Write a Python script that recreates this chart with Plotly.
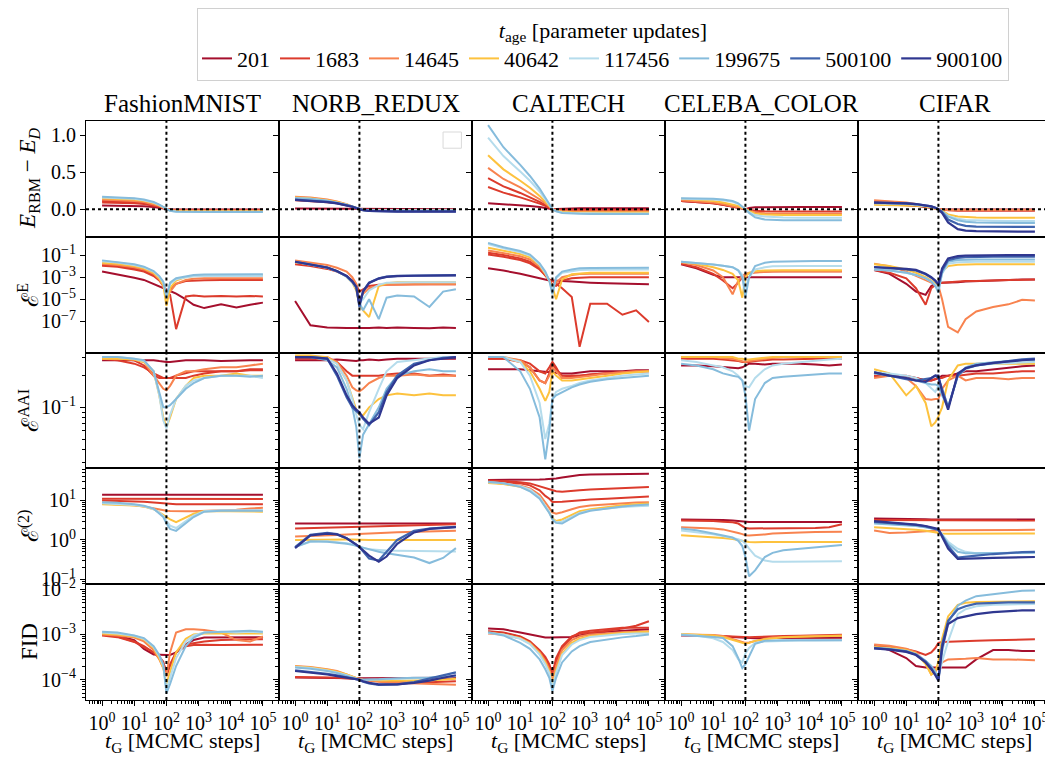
import plotly.graph_objects as go
from plotly.subplots import make_subplots

# ---------------- data ----------------
T_G = [1, 3, 10, 20, 40, 60, 80, 100, 130, 200, 400, 700, 1500, 5000, 15000, 40000, 100000]
T_REF = 100
DATASETS = ["FashionMNIST", "NORB_REDUX", "CALTECH", "CELEBA_COLOR", "CIFAR"]
AGES = ["201", "1683", "14645", "40642", "117456", "199675", "500100", "900100"]
AGE_COLORS = {"201": "#a50f2d", "1683": "#dc3b2c", "14645": "#f8834f", "40642": "#fdc23e",
              "117456": "#b5dcec", "199675": "#86bcdc", "500100": "#3f64ad", "900100": "#2f3790"}

# row 1: E_RBM - E_D
FMNIST_GAP = [
    ("201", [0.05, 0.05, 0.045, 0.04, 0.03, 0.02, 0.01, 0.0, -0.003, -0.005, -0.005, -0.005, -0.005, -0.005, -0.005, -0.005, -0.005]),
    ("1683", [0.09, 0.088, 0.08, 0.07, 0.05, 0.032, 0.015, 0.0, -0.008, -0.01, -0.01, -0.01, -0.01, -0.01, -0.01, -0.01, -0.01]),
    ("1683", [0.11, 0.105, 0.095, 0.083, 0.06, 0.038, 0.018, 0.0, -0.01, -0.013, -0.013, -0.013, -0.013, -0.013, -0.013, -0.013, -0.013]),
    ("14645", [0.13, 0.125, 0.112, 0.097, 0.07, 0.045, 0.022, 0.0, -0.014, -0.018, -0.02, -0.02, -0.02, -0.02, -0.02, -0.02, -0.02]),
    ("40642", [0.15, 0.145, 0.13, 0.113, 0.083, 0.053, 0.026, 0.0, -0.018, -0.025, -0.028, -0.028, -0.028, -0.028, -0.028, -0.028, -0.028]),
    ("117456", [0.16, 0.155, 0.14, 0.122, 0.09, 0.058, 0.028, 0.0, -0.02, -0.03, -0.033, -0.033, -0.033, -0.033, -0.033, -0.033, -0.033]),
    ("199675", [0.17, 0.165, 0.15, 0.13, 0.097, 0.062, 0.03, 0.0, -0.022, -0.033, -0.037, -0.037, -0.037, -0.037, -0.037, -0.037, -0.037]),
]
NORB_GAP = [
    ("201", [0.01, 0.01, 0.008, 0.007, 0.005, 0.003, 0.001, 0.0, 0.0, 0.0, 0.0, 0.0, 0.0, 0.0, 0.0, 0.0, 0.0]),
    ("1683", [0.12, 0.112, 0.095, 0.08, 0.055, 0.035, 0.016, 0.0, -0.005, -0.008, -0.01, -0.01, -0.01, -0.01, -0.01, -0.01, -0.01]),
    ("14645", [0.17, 0.16, 0.13, 0.105, 0.068, 0.042, 0.019, 0.0, -0.006, -0.01, -0.012, -0.012, -0.012, -0.012, -0.012, -0.012, -0.012]),
    ("40642", [0.16, 0.148, 0.12, 0.097, 0.063, 0.04, 0.018, 0.0, -0.008, -0.015, -0.018, -0.018, -0.018, -0.018, -0.018, -0.018, -0.018]),
    ("117456", [0.15, 0.14, 0.113, 0.09, 0.06, 0.038, 0.017, 0.0, -0.008, -0.013, -0.015, -0.015, -0.015, -0.015, -0.015, -0.015, -0.015]),
    ("199675", [0.15, 0.14, 0.113, 0.09, 0.06, 0.038, 0.017, 0.0, -0.01, -0.018, -0.02, -0.02, -0.02, -0.02, -0.02, -0.02, -0.02]),
    ("500100", [0.13, 0.12, 0.1, 0.082, 0.055, 0.035, 0.016, 0.0, -0.012, -0.022, -0.027, -0.029, -0.03, -0.03, -0.03, -0.03, -0.03]),
    ("900100", [0.125, 0.115, 0.096, 0.079, 0.053, 0.034, 0.015, 0.0, -0.013, -0.024, -0.029, -0.031, -0.032, -0.032, -0.032, -0.032, -0.032]),
]
CALTECH_GAP = [
    ("201", [0.08, 0.068, 0.053, 0.043, 0.029, 0.019, 0.008, 0.0, 0.004, 0.008, 0.01, 0.012, 0.012, 0.012, 0.012, 0.012, 0.012]),
    ("1683", [0.30, 0.225, 0.16, 0.12, 0.075, 0.045, 0.019, 0.0, -0.005, -0.008, -0.01, -0.01, -0.01, -0.01, -0.01, -0.01, -0.01]),
    ("1683", [0.42, 0.31, 0.22, 0.165, 0.1, 0.06, 0.026, 0.0, -0.01, -0.015, -0.02, -0.02, -0.02, -0.02, -0.02, -0.02, -0.02]),
    ("14645", [0.56, 0.41, 0.295, 0.22, 0.135, 0.08, 0.034, 0.0, -0.015, -0.025, -0.03, -0.032, -0.032, -0.032, -0.032, -0.032, -0.032]),
    ("40642", [0.73, 0.54, 0.385, 0.29, 0.18, 0.105, 0.045, 0.0, -0.02, -0.035, -0.04, -0.043, -0.045, -0.045, -0.045, -0.045, -0.045]),
    ("117456", [0.97, 0.72, 0.51, 0.385, 0.24, 0.14, 0.06, 0.0, -0.025, -0.045, -0.053, -0.056, -0.058, -0.058, -0.058, -0.058, -0.058]),
    ("199675", [1.14, 0.84, 0.6, 0.45, 0.28, 0.165, 0.07, 0.0, -0.03, -0.05, -0.06, -0.063, -0.065, -0.065, -0.065, -0.065, -0.065]),
]
CELEBA_GAP = [
    ("201", [0.11, 0.1, 0.08, 0.06, 0.035, 0.02, 0.008, 0.0, 0.015, 0.025, 0.028, 0.03, 0.03, 0.03, 0.03, 0.03, 0.03]),
    ("1683", [0.11, 0.1, 0.08, 0.06, 0.04, 0.024, 0.01, 0.0, -0.01, -0.02, -0.028, -0.03, -0.03, -0.03, -0.03, -0.03, -0.03]),
    ("14645", [0.12, 0.11, 0.09, 0.07, 0.045, 0.028, 0.012, 0.0, -0.02, -0.045, -0.055, -0.058, -0.06, -0.06, -0.06, -0.06, -0.06]),
    ("40642", [0.14, 0.13, 0.11, 0.09, 0.065, 0.045, 0.02, 0.0, -0.03, -0.06, -0.073, -0.077, -0.078, -0.078, -0.078, -0.078, -0.078]),
    ("117456", [0.14, 0.138, 0.13, 0.12, 0.1, 0.07, 0.035, 0.0, -0.04, -0.08, -0.1, -0.108, -0.112, -0.115, -0.115, -0.115, -0.115]),
    ("199675", [0.15, 0.148, 0.14, 0.13, 0.11, 0.08, 0.04, 0.0, -0.05, -0.11, -0.14, -0.148, -0.15, -0.15, -0.15, -0.15, -0.15]),
]
CIFAR_GAP = [
    ("201", [0.07, 0.065, 0.055, 0.045, 0.03, 0.018, 0.008, 0.0, -0.002, -0.005, -0.005, -0.005, -0.005, -0.005, -0.005, -0.005, -0.005]),
    ("1683", [0.1, 0.09, 0.075, 0.06, 0.04, 0.025, 0.011, 0.0, -0.008, -0.015, -0.02, -0.02, -0.02, -0.02, -0.02, -0.02, -0.02]),
    ("14645", [0.12, 0.11, 0.09, 0.07, 0.045, 0.028, 0.012, 0.0, -0.005, -0.01, -0.01, -0.01, -0.01, -0.01, -0.01, -0.01, -0.01]),
    ("40642", [0.06, 0.058, 0.053, 0.047, 0.037, 0.025, 0.013, 0.0, -0.02, -0.07, -0.1, -0.108, -0.112, -0.115, -0.115, -0.115, -0.115]),
    ("117456", [0.08, 0.077, 0.07, 0.06, 0.047, 0.033, 0.017, 0.0, -0.03, -0.09, -0.13, -0.145, -0.152, -0.157, -0.16, -0.16, -0.16]),
    ("199675", [0.085, 0.082, 0.075, 0.065, 0.05, 0.035, 0.018, 0.0, -0.03, -0.1, -0.15, -0.17, -0.18, -0.185, -0.187, -0.187, -0.187]),
    ("500100", [0.09, 0.087, 0.08, 0.07, 0.055, 0.038, 0.02, 0.0, -0.04, -0.14, -0.2, -0.225, -0.235, -0.24, -0.24, -0.24, -0.24]),
    ("900100", [0.09, 0.087, 0.08, 0.07, 0.055, 0.038, 0.02, 0.0, -0.05, -0.18, -0.27, -0.29, -0.298, -0.302, -0.305, -0.305, -0.305]),
]

# row 2: E^E
FMNIST_EE = [
    ("201", [3.2e-3, 1.8e-3, 8.9e-4, 5.6e-4, 2.5e-4, 1.6e-4, 1.1e-4, 7.9e-5, 5.6e-5, 3.2e-5, 1e-5, 3.2e-6, 1.6e-6, 3.5e-6, 1.8e-6, 3.2e-6, 5e-6]),
    ("1683", [1.26e-2, 1e-2, 6.3e-3, 4e-3, 1.6e-3, 6.3e-4, 2e-4, 4e-5, 7.9e-5, 2.5e-4, 4.5e-4, 5e-4, 5.4e-4, 5.6e-4, 5.6e-4, 5.6e-4, 5.6e-4]),
    ("1683", [1.1e-2, 8.9e-3, 5e-3, 3.2e-3, 1.26e-3, 5e-4, 1.6e-4, 4e-5, 2.5e-5, 2e-8, 1.8e-5, 2.2e-5, 1.8e-5, 2e-5, 1.8e-5, 2e-5, 1.8e-5]),
    ("14645", [1.66e-2, 1.26e-2, 7.9e-3, 5e-3, 2e-3, 6.3e-4, 1.6e-4, 1.6e-5, 5e-5, 2.5e-4, 5.6e-4, 7.1e-4, 7.9e-4, 7.9e-4, 7.9e-4, 7.9e-4, 7.9e-4]),
    ("40642", [2.0e-2, 1.6e-2, 1e-2, 6.3e-3, 2.5e-3, 7.9e-4, 2e-4, 2.5e-6, 1e-4, 5e-4, 1e-3, 1.26e-3, 1.4e-3, 1.4e-3, 1.4e-3, 1.4e-3, 1.4e-3]),
    ("117456", [2.8e-2, 2.1e-2, 1.26e-2, 7.9e-3, 3.2e-3, 1.1e-3, 3.2e-4, 2.5e-5, 2.5e-4, 6.3e-4, 1e-3, 1.2e-3, 1.26e-3, 1.3e-3, 1.26e-3, 1.3e-3, 1.26e-3]),
    ("199675", [3.3e-2, 2.4e-2, 1.45e-2, 8.9e-3, 3.6e-3, 1.26e-3, 4.0e-4, 1.4e-5, 3.2e-4, 7.9e-4, 1.26e-3, 1.58e-3, 1.78e-3, 1.8e-3, 1.8e-3, 1.86e-3, 1.8e-3]),
]
NORB_EE = [
    ("201", [7.1e-6, 4.5e-8, 2.8e-8, 2.5e-8, 2.5e-8, 2.5e-8, 2.4e-8, 2.5e-8, 2.6e-8, 2.5e-8, 2.8e-8, 2.5e-8, 2.8e-8, 2.6e-8, 2.4e-8, 2.8e-8, 2.6e-8]),
    ("1683", [1.45e-2, 1e-2, 5.6e-3, 3.2e-3, 1.26e-3, 5e-4, 2e-4, 5e-5, 7.9e-5, 1.6e-4, 2.1e-4, 2.2e-4, 2.3e-4, 2.3e-4, 2.3e-4, 2.3e-4, 2.3e-4]),
    ("14645", [3.3e-2, 2.2e-2, 1.26e-2, 7.1e-3, 3.2e-3, 1e-3, 2.5e-4, 7.9e-6, 3.2e-5, 1e-4, 1.8e-4, 2.1e-4, 2.2e-4, 2.3e-4, 2.3e-4, 2.3e-4, 2.3e-4]),
    ("40642", [2.2e-2, 1.4e-2, 7.1e-3, 3.5e-3, 1.1e-3, 3.2e-4, 6.3e-5, 3.2e-6, 1e-6, 2.5e-7, 1.6e-4, 2.8e-4, 3.4e-4, 3.5e-4, 3.5e-4, 3.5e-4, 3.5e-4]),
    ("117456", [2.5e-2, 1.4e-2, 7.1e-3, 3.5e-3, 1.1e-3, 3.5e-4, 1e-4, 5e-6, 1e-5, 6.3e-5, 2e-4, 3.2e-4, 3.5e-4, 3.5e-4, 3.5e-4, 3.5e-4, 3.5e-4]),
    ("199675", [2.5e-2, 1.4e-2, 7.1e-3, 3.5e-3, 1.1e-3, 3.5e-4, 1e-4, 5e-6, 1e-6, 1e-5, 1.6e-7, 1.4e-5, 2.2e-5, 1.8e-5, 2e-6, 5e-5, 7.9e-5]),
    ("500100", [2.5e-2, 1.4e-2, 7.2e-3, 3.5e-3, 1.26e-3, 4e-4, 1.26e-4, 2e-6, 5.6e-5, 3.2e-4, 7.9e-4, 1.1e-3, 1.3e-3, 1.4e-3, 1.5e-3, 1.5e-3, 1.5e-3]),
    ("900100", [2.5e-2, 1.4e-2, 7.5e-3, 3.6e-3, 1.3e-3, 4.2e-4, 1.3e-4, 3e-6, 5e-5, 3e-4, 7.5e-4, 1.05e-3, 1.25e-3, 1.35e-3, 1.45e-3, 1.45e-3, 1.45e-3]),
]
CALTECH_EE = [
    ("201", [6.3e-3, 4e-3, 2e-3, 1.26e-3, 7.1e-4, 5.6e-4, 5e-4, 5e-4, 5e-4, 4.5e-4, 4e-4, 3.5e-4, 3.2e-4, 2.8e-4, 2.5e-4, 2.4e-4, 2.3e-4]),
    ("1683", [0.112, 7.1e-2, 3.5e-2, 1.8e-2, 5e-3, 1.4e-3, 6.3e-4, 4.5e-4, 2.5e-4, 1e-4, 1.6e-5, 5e-10, 4e-6, 4e-6, 4e-7, 1e-6, 8.9e-8]),
    ("1683", [0.158, 0.1, 5e-2, 2.5e-2, 6.3e-3, 1.6e-3, 5e-4, 2e-4, 1.6e-4, 5e-4, 7.9e-4, 8.9e-4, 1e-3, 1e-3, 1e-3, 1e-3, 1e-3]),
    ("14645", [0.26, 0.158, 7.9e-2, 4e-2, 8.9e-3, 2e-3, 5e-4, 1.6e-4, 3.2e-4, 1e-3, 1.6e-3, 1.9e-3, 2e-3, 2e-3, 2e-3, 2e-3, 2e-3]),
    ("40642", [0.46, 0.25, 0.126, 6.3e-2, 1.26e-2, 2.2e-3, 5e-4, 1.26e-4, 1e-5, 6.3e-4, 1.8e-3, 2.2e-3, 2.5e-3, 2.5e-3, 2.5e-3, 2.5e-3, 2.5e-3]),
    ("117456", [1.0, 0.4, 0.178, 8.9e-2, 1.4e-2, 2.5e-3, 5e-4, 6.3e-5, 7.9e-4, 2.5e-3, 3.5e-3, 4.5e-3, 4.8e-3, 5e-3, 5e-3, 5e-3, 5e-3]),
    ("199675", [1.26, 0.5, 0.23, 0.112, 1.8e-2, 3.2e-3, 5e-4, 2.8e-5, 1e-3, 3.2e-3, 5e-3, 6.3e-3, 6.9e-3, 7.2e-3, 7.2e-3, 7.2e-3, 7.2e-3]),
]
CELEBA_EE = [
    ("201", [1.45e-2, 6.3e-3, 1.6e-3, 1e-3, 1e-3, 1e-3, 1e-3, 1e-3, 1e-3, 1e-3, 1e-3, 1e-3, 1e-3, 1e-3, 1e-3, 1e-3, 1e-3]),
    ("1683", [1.6e-2, 7.9e-3, 2e-3, 5e-4, 1e-4, 3.2e-4, 1e-3, 1.6e-3, 2.2e-3, 2.8e-3, 3.2e-3, 3.4e-3, 3.5e-3, 3.5e-3, 3.5e-3, 3.5e-3, 3.5e-3]),
    ("14645", [2.2e-2, 1.26e-2, 4e-3, 1e-3, 2.8e-5, 5e-4, 1.26e-3, 2e-3, 2.5e-3, 2.8e-3, 3e-3, 3.2e-3, 3.2e-3, 3.2e-3, 3.2e-3, 3.2e-3, 3.2e-3]),
    ("40642", [2.4e-2, 1.6e-2, 7.9e-3, 4.5e-3, 2e-3, 5e-4, 1.4e-5, 1e-3, 2.5e-3, 3.5e-3, 4e-3, 4.2e-3, 4.2e-3, 4.2e-3, 4.2e-3, 4.2e-3, 4.2e-3]),
    ("117456", [2.5e-2, 2e-2, 1.4e-2, 1.1e-2, 7.9e-3, 4.5e-3, 1.6e-3, 1e-4, 1e-3, 5e-3, 7.9e-3, 9.5e-3, 1e-2, 1e-2, 1e-2, 1e-2, 1e-2]),
    ("199675", [2.5e-2, 2e-2, 1.4e-2, 1.1e-2, 7.9e-3, 4e-3, 1e-3, 1.6e-5, 1e-3, 1e-2, 2e-2, 2.5e-2, 2.75e-2, 2.8e-2, 2.9e-2, 2.9e-2, 2.9e-2]),
]
CIFAR_EE = [
    ("201", [4.5e-3, 2e-3, 2.5e-4, 5e-5, 2.5e-5, 1.6e-4, 2.5e-4, 3.2e-4, 3.2e-4, 3.2e-4, 3.5e-4, 4e-4, 4.5e-4, 5e-4, 5.6e-4, 6e-4, 6.3e-4]),
    ("1683", [4.5e-3, 2.5e-3, 7.9e-4, 1e-4, 3.2e-6, 1e-4, 2e-4, 2.8e-4, 3.2e-4, 3.5e-4, 4e-4, 4.5e-4, 4.5e-4, 5e-4, 5.6e-4, 6e-4, 6.3e-4]),
    ("14645", [1.6e-2, 1e-2, 3.2e-3, 1.26e-3, 5e-4, 3.2e-4, 2.5e-4, 1.6e-4, 1e-5, 3.2e-8, 1e-8, 1.6e-7, 7.9e-7, 2e-6, 3.5e-6, 8.9e-6, 7.9e-6]),
    ("40642", [1.45e-2, 1e-2, 5e-3, 2.5e-3, 1e-3, 5e-4, 2.5e-4, 2e-4, 3.2e-3, 1e-2, 1.3e-2, 1.4e-2, 1.45e-2, 1.45e-2, 1.45e-2, 1.45e-2, 1.45e-2]),
    ("117456", [5e-3, 4e-3, 2.5e-3, 1.6e-3, 7.9e-4, 4e-4, 2e-4, 1e-4, 2e-3, 1.6e-2, 2.2e-2, 2.4e-2, 2.5e-2, 2.5e-2, 2.5e-2, 2.5e-2, 2.5e-2]),
    ("199675", [5e-3, 4e-3, 2.5e-3, 1.6e-3, 7.9e-4, 4e-4, 1.6e-4, 4e-5, 2.5e-3, 2.5e-2, 3.5e-2, 3.8e-2, 4e-2, 4e-2, 4e-2, 4e-2, 4e-2]),
    ("500100", [7.9e-3, 6.8e-3, 5e-3, 4e-3, 1.8e-3, 8.9e-4, 4.5e-4, 2e-4, 4e-3, 3.5e-2, 5.6e-2, 6.3e-2, 6.8e-2, 7.1e-2, 7.1e-2, 7.1e-2, 7.1e-2]),
    ("900100", [8.3e-3, 7.1e-3, 5.6e-3, 4.5e-3, 2e-3, 1e-3, 5e-4, 2.3e-4, 6.3e-3, 5e-2, 7.9e-2, 8.9e-2, 9.5e-2, 0.1, 0.1, 0.1, 0.1]),
]

# row 3: E^AAI
FMNIST_AAI = [
    ("201", [0.28, 0.28, 0.28, 0.28, 0.28, 0.275, 0.27, 0.27, 0.27, 0.275, 0.28, 0.28, 0.28, 0.275, 0.28, 0.28, 0.28]),
    ("1683", [0.29, 0.29, 0.28, 0.25, 0.2, 0.19, 0.19, 0.19, 0.19, 0.19, 0.19, 0.2, 0.21, 0.22, 0.22, 0.23, 0.23]),
    ("1683", [0.29, 0.28, 0.26, 0.24, 0.21, 0.2, 0.19, 0.19, 0.19, 0.2, 0.21, 0.22, 0.22, 0.22, 0.22, 0.225, 0.225]),
    ("14645", [0.29, 0.29, 0.285, 0.27, 0.2, 0.17, 0.15, 0.145, 0.16, 0.2, 0.22, 0.22, 0.23, 0.24, 0.24, 0.25, 0.26]),
    ("40642", [0.29, 0.29, 0.285, 0.27, 0.22, 0.13, 0.08, 0.065, 0.08, 0.12, 0.16, 0.19, 0.2, 0.2, 0.21, 0.2, 0.2]),
    ("117456", [0.3, 0.3, 0.29, 0.275, 0.22, 0.13, 0.075, 0.063, 0.085, 0.12, 0.16, 0.18, 0.19, 0.2, 0.2, 0.2, 0.19]),
    ("199675", [0.3, 0.3, 0.29, 0.28, 0.22, 0.14, 0.1, 0.1, 0.105, 0.12, 0.15, 0.17, 0.19, 0.2, 0.2, 0.195, 0.2]),
]
NORB_AAI = [
    ("201", [0.28, 0.28, 0.28, 0.285, 0.28, 0.28, 0.275, 0.28, 0.28, 0.285, 0.28, 0.285, 0.29, 0.29, 0.29, 0.29, 0.29]),
    ("1683", [0.29, 0.29, 0.285, 0.27, 0.22, 0.2, 0.2, 0.2, 0.2, 0.2, 0.2, 0.205, 0.21, 0.21, 0.2, 0.205, 0.2]),
    ("14645", [0.3, 0.3, 0.3, 0.27, 0.2, 0.155, 0.145, 0.142, 0.15, 0.17, 0.19, 0.2, 0.2, 0.205, 0.2, 0.2, 0.2]),
    ("40642", [0.31, 0.31, 0.3, 0.26, 0.18, 0.12, 0.095, 0.085, 0.084, 0.1, 0.12, 0.13, 0.135, 0.13, 0.135, 0.13, 0.13]),
    ("117456", [0.3, 0.3, 0.29, 0.26, 0.18, 0.12, 0.085, 0.068, 0.062, 0.09, 0.15, 0.22, 0.27, 0.28, 0.29, 0.3, 0.3]),
    ("199675", [0.3, 0.3, 0.28, 0.24, 0.15, 0.1, 0.065, 0.033, 0.055, 0.07, 0.1, 0.15, 0.2, 0.22, 0.23, 0.22, 0.22]),
    ("500100", [0.3, 0.3, 0.29, 0.2, 0.125, 0.1, 0.092, 0.087, 0.078, 0.068, 0.09, 0.14, 0.2, 0.26, 0.28, 0.295, 0.3]),
    ("900100", [0.3, 0.3, 0.29, 0.21, 0.13, 0.105, 0.095, 0.09, 0.08, 0.07, 0.08, 0.13, 0.19, 0.25, 0.28, 0.29, 0.3]),
]
CALTECH_AAI = [
    ("201", [0.23, 0.23, 0.23, 0.225, 0.22, 0.22, 0.215, 0.215, 0.215, 0.21, 0.21, 0.215, 0.22, 0.22, 0.22, 0.225, 0.225]),
    ("1683", [0.29, 0.29, 0.28, 0.26, 0.22, 0.21, 0.24, 0.27, 0.24, 0.19, 0.2, 0.2, 0.205, 0.21, 0.215, 0.22, 0.22]),
    ("1683", [0.29, 0.29, 0.27, 0.24, 0.18, 0.17, 0.21, 0.26, 0.23, 0.2, 0.2, 0.2, 0.205, 0.21, 0.215, 0.22, 0.22]),
    ("14645", [0.3, 0.3, 0.28, 0.24, 0.18, 0.17, 0.2, 0.24, 0.22, 0.19, 0.19, 0.195, 0.2, 0.21, 0.215, 0.22, 0.22]),
    ("40642", [0.3, 0.3, 0.27, 0.22, 0.15, 0.115, 0.14, 0.22, 0.2, 0.18, 0.18, 0.185, 0.19, 0.2, 0.21, 0.215, 0.22]),
    ("117456", [0.3, 0.3, 0.27, 0.2, 0.11, 0.05, 0.07, 0.12, 0.14, 0.15, 0.16, 0.17, 0.18, 0.19, 0.2, 0.205, 0.21]),
    ("199675", [0.3, 0.3, 0.22, 0.15, 0.08, 0.032, 0.06, 0.12, 0.13, 0.14, 0.155, 0.165, 0.175, 0.185, 0.19, 0.195, 0.2]),
]
CELEBA_AAI = [
    ("201", [0.25, 0.25, 0.245, 0.24, 0.235, 0.235, 0.24, 0.25, 0.26, 0.26, 0.255, 0.26, 0.26, 0.26, 0.255, 0.25, 0.255]),
    ("1683", [0.29, 0.29, 0.29, 0.285, 0.28, 0.275, 0.27, 0.27, 0.27, 0.275, 0.28, 0.285, 0.285, 0.29, 0.29, 0.29, 0.29]),
    ("14645", [0.3, 0.3, 0.3, 0.295, 0.29, 0.28, 0.275, 0.27, 0.275, 0.28, 0.29, 0.295, 0.3, 0.3, 0.3, 0.3, 0.3]),
    ("40642", [0.3, 0.3, 0.3, 0.3, 0.3, 0.29, 0.29, 0.285, 0.285, 0.29, 0.295, 0.3, 0.3, 0.3, 0.3, 0.3, 0.3]),
    ("117456", [0.28, 0.27, 0.25, 0.24, 0.22, 0.2, 0.18, 0.16, 0.155, 0.19, 0.23, 0.25, 0.26, 0.27, 0.28, 0.285, 0.29]),
    ("199675", [0.26, 0.25, 0.23, 0.21, 0.2, 0.195, 0.18, 0.13, 0.06, 0.12, 0.17, 0.19, 0.195, 0.2, 0.205, 0.21, 0.21]),
]
CIFAR_AAI = [
    ("201", [0.2, 0.2, 0.195, 0.19, 0.18, 0.18, 0.185, 0.19, 0.2, 0.2, 0.21, 0.22, 0.22, 0.23, 0.24, 0.245, 0.25]),
    ("1683", [0.2, 0.2, 0.2, 0.19, 0.18, 0.18, 0.185, 0.19, 0.19, 0.2, 0.2, 0.205, 0.21, 0.21, 0.215, 0.22, 0.22]),
    ("14645", [0.19, 0.2, 0.19, 0.16, 0.12, 0.118, 0.12, 0.12, 0.15, 0.18, 0.2, 0.18, 0.19, 0.19, 0.185, 0.19, 0.19]),
    ("40642", [0.23, 0.21, 0.13, 0.16, 0.11, 0.066, 0.072, 0.082, 0.1, 0.18, 0.25, 0.26, 0.26, 0.26, 0.26, 0.26, 0.26]),
    ("117456", [0.215, 0.21, 0.2, 0.19, 0.17, 0.15, 0.14, 0.16, 0.15, 0.1, 0.2, 0.23, 0.25, 0.26, 0.265, 0.27, 0.27]),
    ("199675", [0.21, 0.2, 0.19, 0.18, 0.17, 0.165, 0.165, 0.16, 0.13, 0.1, 0.2, 0.24, 0.26, 0.27, 0.275, 0.28, 0.28]),
    ("500100", [0.215, 0.2, 0.185, 0.18, 0.185, 0.19, 0.2, 0.19, 0.15, 0.1, 0.2, 0.235, 0.25, 0.265, 0.275, 0.285, 0.29]),
    ("900100", [0.215, 0.2, 0.19, 0.18, 0.175, 0.19, 0.2, 0.2, 0.14, 0.095, 0.21, 0.235, 0.25, 0.265, 0.275, 0.28, 0.285]),
]

# row 4: E^(2)
FMNIST_E2 = [
    ("201", [14, 14, 14, 14, 14, 14, 13.8, 13.8, 13.9, 14, 14, 14, 14, 14, 14, 14, 14]),
    ("1683", [11, 11, 11, 10.8, 10.8, 10.8, 10.8, 10.8, 10.8, 10.8, 10.8, 10.8, 10.8, 10.8, 10.8, 10.8, 10.8]),
    ("1683", [10, 9.8, 9.5, 9.2, 8.8, 8.5, 8.3, 8.2, 8.1, 8.0, 8.0, 8.0, 8.0, 8.0, 8.0, 8.0, 8.0]),
    ("14645", [8.3, 8.0, 7.5, 7.0, 6.2, 5.8, 5.6, 5.5, 5.4, 5.3, 5.3, 5.3, 5.4, 5.6, 5.8, 6.2, 6.5]),
    ("40642", [8.0, 7.8, 7.4, 7.0, 6.0, 5.0, 4.3, 3.8, 3.3, 2.8, 3.6, 4.6, 5.4, 5.3, 5.3, 5.2, 5.2]),
    ("117456", [8.5, 8.2, 7.7, 7.1, 6.0, 4.9, 4.0, 3.0, 2.3, 2.0, 2.9, 4.1, 5.3, 5.6, 5.6, 5.5, 5.6]),
    ("199675", [9.0, 8.7, 8.0, 7.3, 6.2, 4.8, 3.8, 2.6, 1.9, 1.7, 2.6, 3.8, 5.2, 5.5, 5.5, 5.5, 5.5]),
]
NORB_E2 = [
    ("201", [2.6, 2.6, 2.6, 2.6, 2.6, 2.6, 2.6, 2.6, 2.6, 2.6, 2.6, 2.6, 2.6, 2.6, 2.6, 2.6, 2.6]),
    ("1683", [1.95, 2.0, 2.05, 2.1, 2.15, 2.15, 2.2, 2.2, 2.2, 2.25, 2.25, 2.3, 2.35, 2.4, 2.45, 2.45, 2.5]),
    ("14645", [1.23, 1.25, 1.3, 1.33, 1.37, 1.4, 1.42, 1.44, 1.45, 1.48, 1.5, 1.53, 1.57, 1.62, 1.67, 1.7, 1.72]),
    ("40642", [1.0, 1.02, 1.04, 1.04, 1.03, 1.02, 1.01, 1.0, 1.0, 1.0, 1.0, 1.0, 1.0, 1.0, 1.0, 1.0, 1.0]),
    ("117456", [0.66, 0.9, 0.92, 0.88, 0.83, 0.78, 0.72, 0.66, 0.62, 0.58, 0.55, 0.54, 0.53, 0.53, 0.52, 0.51, 0.51]),
    ("199675", [0.66, 0.92, 0.9, 0.86, 0.8, 0.75, 0.72, 0.68, 0.64, 0.58, 0.5, 0.46, 0.42, 0.36, 0.26, 0.35, 0.62]),
    ("500100", [0.66, 1.35, 1.5, 1.4, 1.1, 0.9, 0.76, 0.66, 0.52, 0.34, 0.3, 0.5, 1.0, 1.7, 1.95, 2.05, 2.15]),
    ("900100", [0.62, 1.3, 1.45, 1.38, 1.1, 0.9, 0.76, 0.66, 0.55, 0.4, 0.28, 0.38, 0.8, 1.55, 1.9, 2.0, 2.1]),
]
CALTECH_E2 = [
    ("201", [33, 33, 33.5, 34, 34, 34.5, 35, 35, 36, 38, 41, 44, 45, 46, 47, 47, 47]),
    ("1683", [32, 31, 29, 27, 23, 21, 19, 18, 17, 16.5, 17, 18, 19, 20, 21, 21.5, 22]),
    ("1683", [30, 29, 27, 24, 18, 13, 11, 9.1, 9.0, 9.2, 9.6, 10, 10.5, 11, 11.5, 12, 12.5]),
    ("14645", [29, 27, 24, 20, 14, 9, 6.5, 5.0, 4.6, 5.0, 6.0, 6.8, 7.4, 8, 8.5, 8.8, 9]),
    ("40642", [27.5, 26, 22, 18, 12, 7.5, 5, 3.5, 3.0, 3.3, 4.3, 5.3, 6, 6.8, 7.5, 8, 8.3]),
    ("117456", [29, 27, 23, 19, 12, 7.5, 5, 3.4, 2.8, 2.9, 3.8, 4.8, 5.6, 6.3, 6.8, 7.1, 7.3]),
    ("199675", [29.5, 27, 22, 17, 11, 7, 4.8, 3.3, 2.7, 2.6, 3.6, 4.6, 5.5, 6.3, 7, 7.5, 7.9]),
]
CELEBA_E2 = [
    ("201", [3.3, 3.3, 3.25, 3.2, 3.1, 3.0, 2.9, 2.85, 2.85, 2.85, 2.85, 2.85, 2.85, 2.85, 2.85, 2.85, 2.85]),
    ("1683", [3.1, 3.1, 3.0, 2.9, 2.8, 2.6, 2.3, 2.0, 1.95, 1.95, 1.95, 1.95, 1.95, 1.97, 2.0, 2.1, 2.5]),
    ("14645", [2.1, 2.05, 1.95, 1.85, 1.65, 1.5, 1.4, 1.32, 1.3, 1.32, 1.38, 1.45, 1.5, 1.55, 1.58, 1.6, 1.6]),
    ("40642", [1.32, 1.25, 1.18, 1.12, 1.05, 1.0, 0.95, 0.9, 0.89, 0.88, 0.88, 0.88, 0.88, 0.88, 0.89, 0.89, 0.89]),
    ("117456", [1.74, 1.6, 1.4, 1.25, 1.15, 1.05, 0.95, 0.8, 0.6, 0.4, 0.3, 0.28, 0.28, 0.28, 0.28, 0.29, 0.29]),
    ("199675", [1.95, 1.75, 1.45, 1.3, 1.15, 0.95, 0.7, 0.37, 0.12, 0.17, 0.37, 0.47, 0.55, 0.6, 0.64, 0.68, 0.74]),
]
CIFAR_E2 = [
    ("201", [3.5, 3.5, 3.45, 3.4, 3.35, 3.3, 3.3, 3.3, 3.3, 3.3, 3.3, 3.3, 3.3, 3.3, 3.3, 3.3, 3.3]),
    ("1683", [3.2, 3.2, 3.2, 3.2, 3.2, 3.2, 3.2, 3.2, 3.2, 3.2, 3.2, 3.2, 3.2, 3.15, 3.15, 3.1, 3.1]),
    ("14645", [1.74, 1.5, 1.55, 1.62, 1.68, 1.72, 1.74, 1.75, 1.75, 1.76, 1.77, 1.78, 1.78, 1.79, 1.8, 1.8, 1.8]),
    ("40642", [2.1, 2.0, 1.9, 1.8, 1.7, 1.6, 1.55, 1.5, 1.45, 1.43, 1.43, 1.44, 1.45, 1.45, 1.45, 1.45, 1.46]),
    ("117456", [2.7, 2.6, 2.4, 2.3, 2.1, 2.0, 1.9, 1.75, 1.4, 0.9, 0.6, 0.5, 0.46, 0.46, 0.47, 0.47, 0.47]),
    ("199675", [2.6, 2.5, 2.35, 2.25, 2.1, 2.0, 1.9, 1.75, 1.3, 0.8, 0.5, 0.46, 0.46, 0.46, 0.47, 0.47, 0.48]),
    ("500100", [2.85, 2.7, 2.55, 2.4, 2.2, 2.05, 1.95, 1.8, 1.3, 0.7, 0.36, 0.37, 0.4, 0.44, 0.47, 0.49, 0.5]),
    ("900100", [3.0, 2.8, 2.6, 2.45, 2.25, 2.1, 2.0, 1.9, 1.2, 0.6, 0.33, 0.33, 0.34, 0.35, 0.36, 0.37, 0.37]),
]

# row 5: FID
FMNIST_FID = [
    ("201", [1e-3, 9.5e-4, 7.5e-4, 4.8e-4, 3.6e-4, 3.5e-4, 3.5e-4, 3.5e-4, 3.5e-4, 4e-4, 6e-4, 7.5e-4, 8.5e-4, 8.5e-4, 8.7e-4, 8.8e-4, 8.7e-4]),
    ("1683", [9.8e-4, 9e-4, 7e-4, 5.5e-4, 4e-4, 3e-4, 2.3e-4, 1.6e-4, 2.2e-4, 4e-4, 6e-4, 6.5e-4, 7e-4, 7.5e-4, 7.8e-4, 7.8e-4, 7.8e-4]),
    ("1683", [9.5e-4, 8.7e-4, 6.8e-4, 5.3e-4, 4e-4, 3.2e-4, 2.5e-4, 1.2e-4, 2e-4, 4e-4, 5.5e-4, 5.8e-4, 5.9e-4, 5.8e-4, 5.9e-4, 5.8e-4, 5.9e-4]),
    ("14645", [1.0e-3, 9.5e-4, 8.5e-4, 7e-4, 4.5e-4, 2.8e-4, 1.8e-4, 1.2e-4, 4e-4, 1.1e-3, 1.3e-3, 1.3e-3, 1.25e-3, 1.1e-3, 7.5e-4, 7e-4, 9e-4]),
    ("40642", [1.05e-3, 1.0e-3, 9e-4, 7.8e-4, 5e-4, 3e-4, 1.8e-4, 8e-5, 1.5e-4, 4e-4, 8e-4, 1e-3, 1.05e-3, 1.05e-3, 1.05e-3, 1.05e-3, 1.05e-3]),
    ("117456", [1.1e-3, 1.05e-3, 9.3e-4, 8e-4, 5.3e-4, 3.3e-4, 2e-4, 6e-5, 1.1e-4, 3e-4, 7e-4, 9.5e-4, 1.1e-3, 1.15e-3, 1.1e-3, 1.15e-3, 1.1e-3]),
    ("199675", [1.15e-3, 1.1e-3, 9.5e-4, 8.3e-4, 5.5e-4, 3.5e-4, 2.2e-4, 5e-5, 8e-5, 2e-4, 5.5e-4, 8.5e-4, 1.1e-3, 1.15e-3, 1.2e-3, 1.2e-3, 1.15e-3]),
]
NORB_FID = [
    ("201", [1.12e-4, 1.12e-4, 1.1e-4, 1.08e-4, 1.08e-4, 1.08e-4, 1.07e-4, 1.07e-4, 1.08e-4, 1.08e-4, 1.08e-4, 1.1e-4, 1.08e-4, 1.1e-4, 1.08e-4, 1.1e-4, 1.1e-4]),
    ("1683", [1.15e-4, 1.15e-4, 1.12e-4, 1.1e-4, 1.08e-4, 1.05e-4, 1.03e-4, 1e-4, 9.8e-5, 9.5e-5, 9.2e-5, 9e-5, 8.8e-5, 8.7e-5, 8.8e-5, 9e-5, 9.2e-5]),
    ("14645", [2e-4, 1.9e-4, 1.7e-4, 1.55e-4, 1.3e-4, 1.15e-4, 1.08e-4, 1.02e-4, 1e-4, 9.5e-5, 9e-5, 8.7e-5, 8.5e-5, 8.3e-5, 8e-5, 7.8e-5, 7.7e-5]),
    ("40642", [1.95e-4, 1.85e-4, 1.65e-4, 1.5e-4, 1.3e-4, 1.15e-4, 1.08e-4, 1.02e-4, 1e-4, 9.8e-5, 9.6e-5, 9.5e-5, 9.5e-5, 9.5e-5, 9.7e-5, 1e-4, 1.05e-4]),
    ("117456", [1.9e-4, 1.8e-4, 1.6e-4, 1.45e-4, 1.25e-4, 1.12e-4, 1.05e-4, 1e-4, 1e-4, 1e-4, 1e-4, 1.02e-4, 1.05e-4, 1.07e-4, 1.1e-4, 1.15e-4, 1.2e-4]),
    ("199675", [1.85e-4, 1.75e-4, 1.55e-4, 1.4e-4, 1.2e-4, 1.1e-4, 1.05e-4, 1e-4, 1e-4, 1e-4, 1.02e-4, 1.05e-4, 1.08e-4, 1.1e-4, 1.12e-4, 1.15e-4, 1.2e-4]),
    ("500100", [1.6e-4, 1.5e-4, 1.35e-4, 1.25e-4, 1.12e-4, 1.05e-4, 1.02e-4, 9.8e-5, 9e-5, 8.2e-5, 7.7e-5, 7.7e-5, 7.9e-5, 8.8e-5, 1.05e-4, 1.25e-4, 1.45e-4]),
    ("900100", [1.55e-4, 1.45e-4, 1.3e-4, 1.2e-4, 1.1e-4, 1.05e-4, 1.02e-4, 1e-4, 9.2e-5, 8.5e-5, 7.9e-5, 7.8e-5, 7.9e-5, 8.5e-5, 9.5e-5, 1.1e-4, 1.25e-4]),
]
CALTECH_FID = [
    ("201", [1.35e-3, 1.3e-3, 1.1e-3, 1e-3, 8.8e-4, 8.5e-4, 8.5e-4, 8.5e-4, 8.6e-4, 8.6e-4, 8.8e-4, 9.5e-4, 1.05e-3, 1.15e-3, 1.2e-3, 1.25e-3, 1.3e-3]),
    ("1683", [1.18e-3, 1.1e-3, 9e-4, 7e-4, 4.5e-4, 3.2e-4, 2.2e-4, 1.3e-4, 3e-4, 5.5e-4, 9e-4, 1.05e-3, 1.1e-3, 1.2e-3, 1.35e-3, 1.55e-3, 1.95e-3]),
    ("1683", [1.15e-3, 1.07e-3, 8.8e-4, 6.8e-4, 4.2e-4, 2.9e-4, 2e-4, 1.4e-4, 2.5e-4, 5e-4, 8.5e-4, 1.1e-3, 1.2e-3, 1.3e-3, 1.4e-3, 1.4e-3, 1.4e-3]),
    ("14645", [1.05e-3, 9.8e-4, 8.2e-4, 6.5e-4, 4e-4, 2.6e-4, 1.7e-4, 9.6e-5, 2e-4, 4.5e-4, 7.5e-4, 9e-4, 1e-3, 1.07e-3, 1.12e-3, 1.15e-3, 1.18e-3]),
    ("40642", [1.1e-3, 1.0e-3, 8.2e-4, 6.3e-4, 3.8e-4, 2.4e-4, 1.5e-4, 7.3e-5, 1.6e-4, 3.8e-4, 6.5e-4, 8e-4, 9.2e-4, 1.02e-3, 1.08e-3, 1.12e-3, 1.15e-3]),
    ("117456", [1.08e-3, 1.0e-3, 8e-4, 6.1e-4, 3.6e-4, 2.2e-4, 1.4e-4, 6.5e-5, 1.4e-4, 3.5e-4, 6e-4, 7.5e-4, 8.8e-4, 9.7e-4, 1.02e-3, 1.05e-3, 1.05e-3]),
    ("199675", [1.12e-3, 9.5e-4, 6.5e-4, 4.8e-4, 2.8e-4, 1.7e-4, 1.1e-4, 5.6e-5, 1.1e-4, 2.4e-4, 4.2e-4, 5.5e-4, 6.8e-4, 7.8e-4, 8.6e-4, 9.2e-4, 1e-3]),
]
CELEBA_FID = [
    ("201", [9.5e-4, 9.5e-4, 9.3e-4, 9e-4, 8.7e-4, 8.5e-4, 8.3e-4, 8.2e-4, 8.2e-4, 8.2e-4, 8.3e-4, 8.3e-4, 8.4e-4, 8.5e-4, 8.5e-4, 8.5e-4, 8.4e-4]),
    ("1683", [9.8e-4, 9.7e-4, 9.5e-4, 9.2e-4, 9e-4, 8.8e-4, 8.7e-4, 8.7e-4, 8.7e-4, 8.8e-4, 9e-4, 9e-4, 9.2e-4, 9.3e-4, 9.5e-4, 9.6e-4, 9.8e-4]),
    ("14645", [1e-3, 1e-3, 9.7e-4, 9.2e-4, 8e-4, 7.2e-4, 6.7e-4, 6.5e-4, 6.6e-4, 7.2e-4, 8e-4, 8.5e-4, 8.8e-4, 9e-4, 9.2e-4, 9.4e-4, 9.5e-4]),
    ("40642", [1.02e-3, 1e-3, 9.5e-4, 8.8e-4, 7.6e-4, 6.8e-4, 6.4e-4, 6.2e-4, 6.5e-4, 7.2e-4, 7.8e-4, 8.2e-4, 8.6e-4, 8.9e-4, 9.1e-4, 9.2e-4, 9.3e-4]),
    ("117456", [1e-3, 9.5e-4, 8.2e-4, 6.8e-4, 4.5e-4, 2.8e-4, 2.4e-4, 3.8e-4, 5e-4, 6.5e-4, 7e-4, 7.1e-4, 7.2e-4, 7.3e-4, 7.3e-4, 7.4e-4, 7.4e-4]),
    ("199675", [9.7e-4, 9.3e-4, 8.8e-4, 8.3e-4, 5.5e-4, 3e-4, 1.8e-4, 2.2e-4, 3.3e-4, 6.2e-4, 7.2e-4, 7.4e-4, 7.4e-4, 7.4e-4, 7.4e-4, 7.4e-4, 7.4e-4]),
]
CIFAR_FID = [
    ("201", [5.5e-4, 4.5e-4, 3e-4, 2e-4, 1.85e-4, 1.85e-4, 1.85e-4, 1.85e-4, 1.85e-4, 1.8e-4, 1.85e-4, 1.85e-4, 2.8e-4, 4.5e-4, 4.5e-4, 4.3e-4, 4.3e-4]),
    ("1683", [5.5e-4, 5.2e-4, 4.7e-4, 4.2e-4, 3.5e-4, 4e-4, 5e-4, 6.5e-4, 6.8e-4, 6.9e-4, 7e-4, 7.1e-4, 7.2e-4, 7.4e-4, 7.5e-4, 7.7e-4, 7.8e-4]),
    ("14645", [6e-4, 5.6e-4, 4.8e-4, 4e-4, 2.4e-4, 1.3e-4, 1.5e-4, 1.9e-4, 2.4e-4, 2.8e-4, 2.8e-4, 2.9e-4, 3e-4, 2.8e-4, 2.8e-4, 2.7e-4, 2.7e-4]),
    ("40642", [5.3e-4, 5e-4, 4.5e-4, 3.8e-4, 2.2e-4, 1.3e-4, 1.5e-4, 2.5e-4, 8e-4, 2.5e-3, 4.5e-3, 5e-3, 5.2e-3, 5.3e-3, 5.4e-3, 5.4e-3, 5.4e-3]),
    ("117456", [5.1e-4, 4.8e-4, 4.3e-4, 3.7e-4, 2.6e-4, 1.9e-4, 1.4e-4, 1.1e-4, 2.5e-4, 7e-4, 2.8e-3, 3.6e-3, 4.2e-3, 4.5e-3, 4.6e-3, 4.7e-3, 4.7e-3]),
    ("199675", [5.1e-4, 4.8e-4, 4.3e-4, 3.6e-4, 2.6e-4, 2e-4, 1.5e-4, 1.05e-4, 4e-4, 1.8e-3, 4.3e-3, 5.6e-3, 7e-3, 7.8e-3, 8.5e-3, 9.2e-3, 9.3e-3]),
    ("500100", [5e-4, 4.7e-4, 4.2e-4, 3.6e-4, 2.5e-4, 1.8e-4, 1.3e-4, 1e-4, 6e-4, 2e-3, 3.6e-3, 4.2e-3, 4.8e-3, 5e-3, 5.1e-3, 5.1e-3, 5.1e-3]),
    ("900100", [4.9e-4, 4.6e-4, 4.1e-4, 3.5e-4, 2.4e-4, 1.7e-4, 1.25e-4, 9.5e-5, 5e-4, 1.7e-3, 2.3e-3, 2.5e-3, 2.8e-3, 3.1e-3, 3.3e-3, 3.4e-3, 3.4e-3]),
]

PANELS = [
    [FMNIST_GAP, NORB_GAP, CALTECH_GAP, CELEBA_GAP, CIFAR_GAP],
    [FMNIST_EE, NORB_EE, CALTECH_EE, CELEBA_EE, CIFAR_EE],
    [FMNIST_AAI, NORB_AAI, CALTECH_AAI, CELEBA_AAI, CIFAR_AAI],
    [FMNIST_E2, NORB_E2, CALTECH_E2, CELEBA_E2, CIFAR_E2],
    [FMNIST_FID, NORB_FID, CALTECH_FID, CELEBA_FID, CIFAR_FID],
]
ROW_LABELS = ["<i>E</i><sub>RBM</sub> − <i>E</i><sub><i>D</i></sub>", "ℰ<sup>E</sup>",
              "ℰ<sup>AAI</sup>", "ℰ<sup>(2)</sup>", "FID"]

# ---------------- styling ----------------
FONT = "Liberation Serif, Times New Roman, serif"
# the page adds an 8 px body margin, so the figure is drawn 16 px smaller
W, H = 1045, 749
ML, MR, MT, MB = 78, 2, 113, 57
PW, PH = W - ML - MR, H - MT - MB


def sup(e):
    return "10<sup>" + str(e).replace("-", "−") + "</sup>"


def minor_vals(e0, e1):
    return [k * 10.0 ** e for e in range(e0, e1) for k in range(2, 10)]


ROW_AXES = [
    dict(type="linear", range=[-0.374, 1.195], tickvals=[0, 0.5, 1.0], ticktext=["0.0", "0.5", "1.0"], minor=None),
    dict(type="log", range=[-9.82, 0.65], tickvals=[1e-1, 1e-3, 1e-5, 1e-7], ticktext=[sup(-1), sup(-3), sup(-5), sup(-7)], minor=None),
    dict(type="log", range=[-1.58, -0.48], tickvals=[0.1], ticktext=[sup(-1)], minor=minor_vals(-2, 0)),
    dict(type="log", range=[-1.12, 1.81], tickvals=[10, 1, 0.1], ticktext=[sup(1), sup(0), sup(-1)], minor=minor_vals(-2, 2)),
    dict(type="log", range=[-4.45, -1.89], tickvals=[1e-2, 1e-3, 1e-4], ticktext=[sup(-2), sup(-3), sup(-4)], minor=minor_vals(-5, -1)),
]

fig = make_subplots(rows=5, cols=5, horizontal_spacing=0, vertical_spacing=0)

shown = set()
for r, row in enumerate(PANELS, start=1):
    for c, panel in enumerate(row, start=1):
        for age, vals in panel:
            assert len(vals) == len(T_G), (r, c, age)
            first = age not in shown
            shown.add(age)
            fig.add_trace(go.Scatter(
                x=T_G, y=vals, mode="lines", name=age, legendgroup=age,
                showlegend=first, legendrank=AGES.index(age),
                line=dict(color=AGE_COLORS[age], width=2.2 if age in ("500100", "900100") else 2),
            ), row=r, col=c)
        fig.add_vline(x=T_REF, line=dict(color="black", dash="dot", width=2), row=r, col=c)
        if r == 1:
            fig.add_hline(y=0, line=dict(color="black", dash="dot", width=2), row=r, col=c)

        ax = ROW_AXES[r - 1]
        yminor = dict(tickvals=ax["minor"], ticks="outside", ticklen=3, tickwidth=1, tickcolor="black") if ax["minor"] else dict(ticks="")
        fig.update_yaxes(type=ax["type"], range=ax["range"], tickmode="array", tickvals=ax["tickvals"],
                         ticktext=ax["ticktext"], showticklabels=(c == 1), ticks="outside", ticklen=5,
                         tickwidth=1, tickcolor="black", minor=yminor, showgrid=False, zeroline=False,
                         showline=True, mirror=True, linecolor="black", linewidth=1,
                         tickfont=dict(family=FONT, size=20, color="black"), row=r, col=c)
        xminor = dict(tickvals=minor_vals(-1, 6), ticks="outside", ticklen=3, tickwidth=1, tickcolor="black") if r == 5 else dict(ticks="")
        fig.update_xaxes(type="log", range=[-0.5, 5.5], tickmode="array",
                         tickvals=[1, 10, 100, 1e3, 1e4, 1e5], ticktext=[sup(e) for e in range(6)],
                         showticklabels=(r == 5), ticks="outside" if r == 5 else "", ticklen=5,
                         tickwidth=1, tickcolor="black", minor=xminor, showgrid=False, zeroline=False,
                         showline=True, mirror=True, linecolor="black", linewidth=1,
                         tickfont=dict(family=FONT, size=20, color="black"), row=r, col=c)

# empty legend frame in the NORB_REDUX energy panel
fig.add_shape(type="rect", xref="x2 domain", yref="y2 domain", x0=0.85, x1=0.945, y0=0.765, y1=0.905,
              line=dict(color="#d9d9d9", width=1), fillcolor="white")

annotations = []
for c, name in enumerate(DATASETS):
    annotations.append(dict(text=name, xref="paper", yref="paper", x=(c + 0.5) / 5, y=1.0, yshift=2,
                            xanchor="center", yanchor="bottom", showarrow=False,
                            font=dict(family=FONT, size=25, color="black")))
    annotations.append(dict(text="<i>t</i><sub>G</sub> [MCMC steps]", xref="paper", yref="paper",
                            x=(c + 0.5) / 5, y=-(734 - (H - MB)) / PH, xanchor="center", yanchor="middle",
                            showarrow=False, font=dict(family=FONT, size=22, color="black")))
for r, label in enumerate(ROW_LABELS):
    annotations.append(dict(text=label, xref="paper", yref="paper", x=(21 - ML) / PW, y=1 - (r + 0.5) / 5,
                            xanchor="center", yanchor="middle", textangle=-90, showarrow=False,
                            font=dict(family=FONT, size=23, color="black")))

fig.update_layout(
    width=W, height=H, margin=dict(l=ML, r=MR, t=MT, b=MB, autoexpand=False),
    plot_bgcolor="white", paper_bgcolor="white",
    font=dict(family=FONT, color="black"),
    annotations=annotations,
    legend=dict(orientation="h", x=(595 - ML) / PW, xanchor="center", y=1 + MT / PH, yanchor="top",
                bgcolor="white", bordercolor="#d0d0d0", borderwidth=1,
                font=dict(family=FONT, size=22, color="black"), itemwidth=30,
                title=dict(text="<i>t</i><sub>age</sub> [parameter updates]", side="top center",
                           font=dict(family=FONT, size=22, color="black"))),
)

fig.write_html("out.html")
